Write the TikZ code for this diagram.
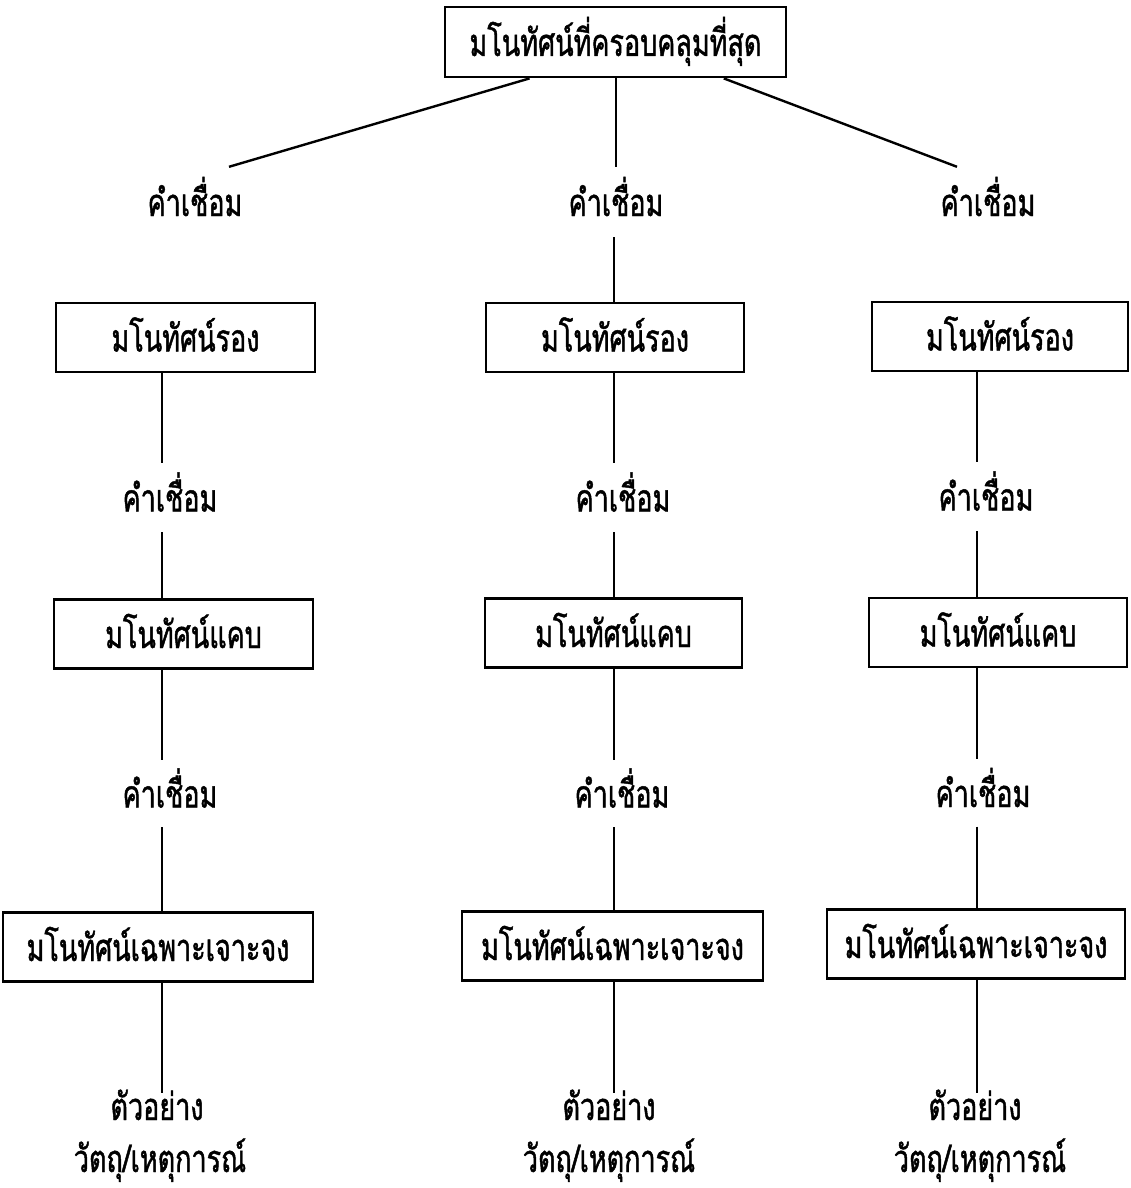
\documentclass[tikz,border=0pt]{standalone}
\usepackage{fontspec}
\newfontfamily\thai[Script=Thai,FakeStretch=0.71,FakeBold=1.2]{Loma}
\usetikzlibrary{calc}
\begin{document}
\begin{tikzpicture}[x=1pt,y=-1pt,
  every node/.style={font=\thai\fontsize{38}{40}\selectfont, inner sep=0pt, text height=28pt, text depth=0pt},
  box/.style={draw, line width=2.8pt, minimum height=69pt},
  lbl/.style={minimum height=69pt},
  conn/.style={line width=2.4pt}]
\useasboundingbox (0,0) rectangle (1131,1188);
% column axes
\coordinate (cL) at (162,0);
\coordinate (cM) at (614,0);
\coordinate (cR) at (977,0);
% top
\node[box, minimum width=341pt, minimum height=70pt] (top) at (615.5,42) {มโนทัศน์ที่ครอบคลุมที่สุด};
% first linking words
\node[lbl, minimum height=70pt] (kL1) at (195,202) {คำเชื่อม};
\node[lbl, minimum height=70pt] (kM1) at (616,202) {คำเชื่อม};
\node[lbl, minimum height=70pt] (kR1) at (988,202) {คำเชื่อม};
% row 2
\node[box, minimum width=259pt] (bL2) at (185.5,337.5) {มโนทัศน์รอง};
\node[box, minimum width=258pt] (bM2) at (615,337.5) {มโนทัศน์รอง};
\node[box, minimum width=256pt] (bR2) at (1000,336.5) {มโนทัศน์รอง};
\node[lbl] (kL2) at (170,497.5) {คำเชื่อม};
\node[lbl] (kM2) at (623,497.5) {คำเชื่อม};
\node[lbl] (kR2) at (986,496.5) {คำเชื่อม};
% row 3
\node[box, minimum width=259pt] (bL3) at (183.5,634) {มโนทัศน์แคบ};
\node[box, minimum width=257pt] (bM3) at (613.5,633) {มโนทัศน์แคบ};
\node[box, minimum width=258pt] (bR3) at (998,632.5) {มโนทัศน์แคบ};
\node[lbl, minimum height=67pt] (kL3) at (170,793.5) {คำเชื่อม};
\node[lbl, minimum height=67pt] (kM3) at (622,793.5) {คำเชื่อม};
\node[lbl, minimum height=67pt] (kR3) at (983,793) {คำเชื่อม};
% row 4
\node[box, minimum width=310pt] (bL4) at (158,947) {มโนทัศน์เฉพาะเจาะจง};
\node[box, minimum width=301pt] (bM4) at (612.5,946) {มโนทัศน์เฉพาะเจาะจง};
\node[box, minimum width=298pt] (bR4) at (976,944) {มโนทัศน์เฉพาะเจาะจง};
% examples
\node[text height=27pt] (exL) at (157,1106.5) {ตัวอย่าง};
\node[text height=27pt] (exM) at (609,1106.5) {ตัวอย่าง};
\node[text height=27pt] (exR) at (975,1106.5) {ตัวอย่าง};
\node[anchor=base] (obL) at (160,1172) {วัตถุ/เหตุการณ์};
\node[anchor=base] (obM) at (609,1172) {วัตถุ/เหตุการณ์};
\node[anchor=base] (obR) at (980,1172) {วัตถุ/เหตุการณ์};
% connectors from top
\draw[conn] ($(top.south west)!0.25!(top.south east)$) -- ([xshift=34pt]kL1.north);
\draw[conn] (top.south -| kM1) -- (kM1.north);
\draw[conn] ($(top.south west)!0.815!(top.south east)$) -- ([xshift=-31pt]kR1.north);
\draw[conn] (kM1.south -| cM) -- (bM2.north -| cM);
% left column
\draw[conn] (bL2.south -| cL) -- (kL2.north -| cL);
\draw[conn] (kL2.south -| cL) -- (bL3.north -| cL);
\draw[conn] (bL3.south -| cL) -- (kL3.north -| cL);
\draw[conn] (kL3.south -| cL) -- (bL4.north -| cL);
\draw[conn] (bL4.south -| cL) -- (exL.north -| cL);
% middle column
\draw[conn] (bM2.south -| cM) -- (kM2.north -| cM);
\draw[conn] (kM2.south -| cM) -- (bM3.north -| cM);
\draw[conn] (bM3.south -| cM) -- (kM3.north -| cM);
\draw[conn] (kM3.south -| cM) -- (bM4.north -| cM);
\draw[conn] (bM4.south -| cM) -- (exM.north -| cM);
% right column
\draw[conn] (bR2.south -| cR) -- (kR2.north -| cR);
\draw[conn] (kR2.south -| cR) -- (bR3.north -| cR);
\draw[conn] (bR3.south -| cR) -- (kR3.north -| cR);
\draw[conn] (kR3.south -| cR) -- (bR4.north -| cR);
\draw[conn] (bR4.south -| cR) -- (exR.north -| cR);
\end{tikzpicture}
\end{document}
